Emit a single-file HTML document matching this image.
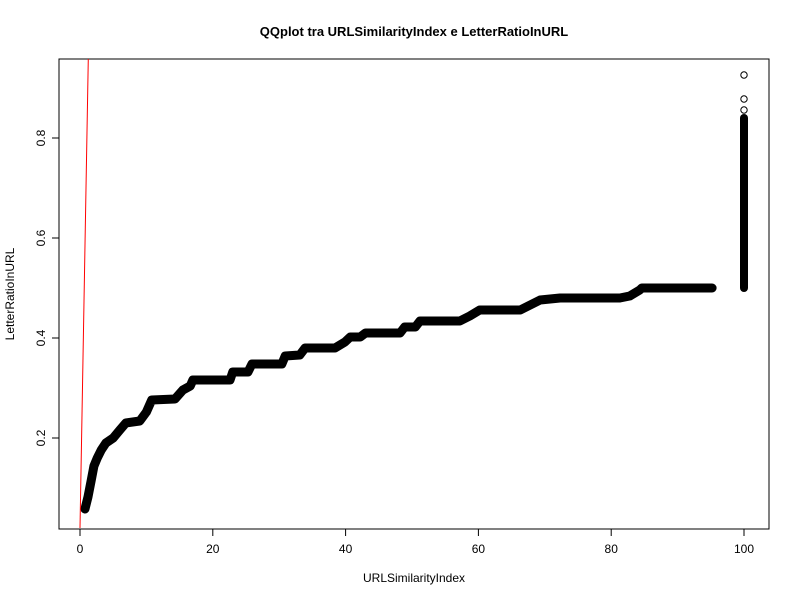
<!DOCTYPE html>
<html><head><meta charset="utf-8"><style>
body{margin:0;background:#fff}svg{display:block;font-family:"Liberation Sans",sans-serif}
</style></head><body>
<svg width="800" height="600" id="c">
<text x="414" y="36" text-anchor="middle" font-size="13" font-weight="bold">QQplot tra URLSimilarityIndex e LetterRatioInURL</text>
<text x="414" y="582" text-anchor="middle" font-size="12">URLSimilarityIndex</text>
<text x="0" y="0" transform="translate(14,294) rotate(-90)" text-anchor="middle" font-size="12">LetterRatioInURL</text>
<rect x="59" y="59" width="710" height="470" fill="none" stroke="#000"/>
<g id="xa"></g><g id="ya"></g><g id="pts"></g>
</svg>
<script>
const xTicks=[0,20,40,60,80,100];
const yTicks=[0.2,0.4,0.6,0.8];
const curveX=[0.75,1.2,1.7,2.1,2.6,3.2,3.9,5,6,6.9,9,10,10.8,14.3,15.5,16.6,17,22.6,23,25.3,25.9,30.4,30.9,33.1,33.9,38.4,39.9,40.7,42.2,43,48.2,48.9,50.5,51.2,57.2,58.7,60.2,66.3,67.8,69.3,72.3,81.3,82.8,84.3,84.6,95.2];
const curveY=[0.058,0.082,0.116,0.144,0.16,0.176,0.19,0.2,0.216,0.23,0.234,0.252,0.276,0.278,0.296,0.304,0.316,0.316,0.332,0.332,0.348,0.348,0.364,0.366,0.38,0.38,0.392,0.402,0.402,0.41,0.41,0.422,0.422,0.434,0.434,0.444,0.456,0.456,0.466,0.476,0.48,0.48,0.484,0.496,0.5,0.5];
const topX=[100,100];
const topY=[0.5,0.84];
const outX=[100,100,100];
const outY=[0.856,0.878,0.926];
const lineX=[0,1.25];
const lineY=[0.02,0.96];
const sx=v=>80+v*6.64, sy=v=>438-(v-0.2)*500;
const NS="http://www.w3.org/2000/svg";
function mk(t,a,p){const e=document.createElementNS(NS,t);for(const k in a)e.setAttribute(k,a[k]);p.appendChild(e);return e;}
const xa=document.getElementById('xa'),ya=document.getElementById('ya'),pts=document.getElementById('pts');
let l=mk('line',{x1:sx(0),x2:sx(100),y1:529,y2:529,stroke:'#000'},xa);


xTicks.forEach(v=>{const t=mk('line',{x1:sx(v),x2:sx(v),y1:529,y2:536,stroke:'#000'},xa);


const s=mk('text',{x:sx(v),y:553,'text-anchor':'middle','font-size':12},xa);s.textContent=v;

});
l=mk('line',{x1:59,x2:59,y1:sy(0.2),y2:sy(0.8),stroke:'#000'},ya);


yTicks.forEach(v=>{const t=mk('line',{x1:52,x2:59,y1:sy(v),y2:sy(v),stroke:'#000'},ya);


const s=mk('text',{x:0,y:0,transform:`translate(45,${sy(v)}) rotate(-90)`,'text-anchor':'middle','font-size':12},ya);s.textContent=v.toFixed(1);

});
const cl=mk('path',{d:'M'+curveX.map((x,i)=>sx(x)+','+sy(curveY[i])).join('L'),fill:'none',stroke:'#000','stroke-width':9,'stroke-linecap':'round','stroke-linejoin':'round'},pts);


const tl=mk('path',{d:`M${sx(topX[0])},${sy(topY[0])}L${sx(topX[1])},${sy(topY[1])}`,stroke:'#000','stroke-width':8,'stroke-linecap':'round'},pts);


outX.forEach((x,i)=>{const c=mk('circle',{cx:sx(x),cy:sy(outY[i]),r:3.2,fill:'none',stroke:'#000'},pts);

});
const ql=mk('line',{x1:sx(lineX[0]),y1:sy(lineY[0]),x2:sx(lineX[1]),y2:sy(lineY[1]),stroke:'#f00'},pts);


const cp=document.createElementNS(NS,'clipPath');cp.id='cp';mk('rect',{x:59,y:59,width:710,height:470},cp);document.getElementById('c').appendChild(cp);
ql.setAttribute('clip-path','url(#cp)');
</script>
</body></html>
